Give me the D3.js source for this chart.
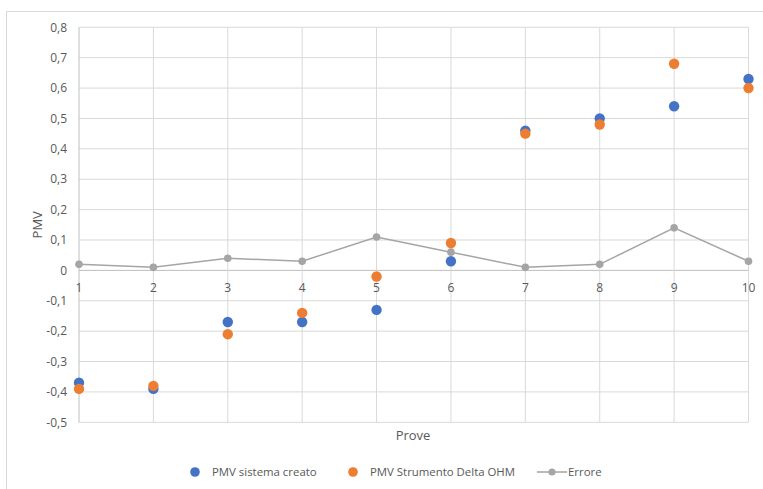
<!DOCTYPE html>
<html>
<head>
<meta charset="utf-8">
<script src="https://cdn.jsdelivr.net/npm/d3@7"></script>
<style>
  html, body { margin: 0; padding: 0; background: #fff; }
  svg { display: block; font-family: "Open Sans", "Noto Sans", sans-serif; }
</style>
</head>
<body>
<svg id="chart" width="763" height="489"></svg>
<script>
// Test runs (Prove) and PMV readings
const prove = [1, 2, 3, 4, 5, 6, 7, 8, 9, 10];
const pmvSistema = [-0.37, -0.39, -0.17, -0.17, -0.13, 0.03, 0.46, 0.50, 0.54, 0.63];
const pmvDeltaOhm = [-0.39, -0.38, -0.21, -0.14, -0.02, 0.09, 0.45, 0.48, 0.68, 0.60];
const errore = [0.02, 0.01, 0.04, 0.03, 0.11, 0.06, 0.01, 0.02, 0.14, 0.03];
const yTicks = [-0.5, -0.4, -0.3, -0.2, -0.1, 0, 0.1, 0.2, 0.3, 0.4, 0.5, 0.6, 0.7, 0.8];
const seriesNames = ["PMV sistema creato", "PMV Strumento Delta OHM", "Errore"];

const colors = { blue: "#4472C4", orange: "#ED7D31", gray: "#A5A5A5" };

const svg = d3.select("#chart");
const plot = { left: 79, right: 748.5, top: 27.3, bottom: 422.3 };

const x = d3.scaleLinear().domain([1, 10]).range([plot.left, plot.right]);
const y = d3.scaleLinear().domain([-0.5, 0.8]).range([plot.bottom, plot.top]);
const fmt = v => d3.format(".1f")(v).replace(".", ",").replace("−", "-");

// Chart frame
svg.append("rect")
  .attr("x", 6.5).attr("y", 11.5)
  .attr("width", 800).attr("height", 500)
  .attr("fill", "none").attr("stroke", "#D9D9D9").attr("stroke-width", 1);

// Horizontal gridlines
svg.append("g")
  .selectAll("line")
  .data(yTicks)
  .join("line")
  .attr("x1", plot.left).attr("x2", plot.right)
  .attr("y1", d => y(d)).attr("y2", d => y(d))
  .attr("stroke", d => d === 0 ? "#BFBFBF" : "#D9D9D9")
  .attr("stroke-width", 1);

// Vertical gridlines
svg.append("g")
  .selectAll("line")
  .data(prove)
  .join("line")
  .attr("x1", d => x(d)).attr("x2", d => x(d))
  .attr("y1", plot.top).attr("y2", plot.bottom)
  .attr("stroke", d => d === 1 ? "#BFBFBF" : "#D9D9D9")
  .attr("stroke-width", 1);

// Y tick labels
svg.append("g")
  .selectAll("text")
  .data(yTicks)
  .join("text")
  .attr("x", 67).attr("y", d => y(d))
  .attr("dy", "0.35em")
  .attr("text-anchor", "end")
  .attr("font-size", 12)
  .attr("fill", "#595959")
  .text(d => d === 0 ? "0" : fmt(d));

// X tick labels (just below the zero line)
svg.append("g")
  .selectAll("text")
  .data(prove)
  .join("text")
  .attr("x", d => x(d)).attr("y", y(0) + 17)
  .attr("dy", "0.35em")
  .attr("text-anchor", "middle")
  .attr("font-size", 12)
  .attr("fill", "#595959")
  .text(d => d);

// Axis titles
svg.append("text")
  .attr("transform", `translate(37,${(plot.top + plot.bottom) / 2}) rotate(-90)`)
  .attr("text-anchor", "middle")
  .attr("dy", "0.35em")
  .attr("font-size", 13)
  .attr("fill", "#595959")
  .text("PMV");

svg.append("text")
  .attr("x", 413).attr("y", 435)
  .attr("dy", "0.35em")
  .attr("text-anchor", "middle")
  .attr("font-size", 13)
  .attr("fill", "#595959")
  .text("Prove");

// Errore line with markers
const line = d3.line().x((d, i) => x(prove[i])).y(d => y(d));
svg.append("path")
  .datum(errore)
  .attr("d", line)
  .attr("fill", "none")
  .attr("stroke", colors.gray)
  .attr("stroke-width", 1.5);
svg.append("g")
  .selectAll("circle")
  .data(errore)
  .join("circle")
  .attr("cx", (d, i) => x(prove[i])).attr("cy", d => y(d))
  .attr("r", 3.8)
  .attr("fill", colors.gray);

// Scatter series
svg.append("g")
  .selectAll("circle")
  .data(pmvSistema)
  .join("circle")
  .attr("cx", (d, i) => x(prove[i])).attr("cy", d => y(d))
  .attr("r", 5.2)
  .attr("fill", colors.blue);

svg.append("g")
  .selectAll("circle")
  .data(pmvDeltaOhm)
  .join("circle")
  .attr("cx", (d, i) => x(prove[i])).attr("cy", d => y(d))
  .attr("r", 5.2)
  .attr("fill", colors.orange);

// Legend
const legY = 472;
const leg = svg.append("g").attr("font-size", 11.4).attr("fill", "#595959");
leg.append("circle").attr("cx", 195).attr("cy", legY).attr("r", 4.8).attr("fill", colors.blue);
leg.append("text").attr("x", 212).attr("y", legY).attr("dy", "0.35em").text(seriesNames[0]);
leg.append("circle").attr("cx", 353).attr("cy", legY).attr("r", 4.8).attr("fill", colors.orange);
leg.append("text").attr("x", 370).attr("y", legY).attr("dy", "0.35em").text(seriesNames[1]);
leg.append("line").attr("x1", 537).attr("x2", 567).attr("y1", legY).attr("y2", legY)
  .attr("stroke", colors.gray).attr("stroke-width", 1.5);
leg.append("circle").attr("cx", 552).attr("cy", legY).attr("r", 3.5).attr("fill", colors.gray);
leg.append("text").attr("x", 568).attr("y", legY).attr("dy", "0.35em").text(seriesNames[2]);
</script>
</body>
</html>
